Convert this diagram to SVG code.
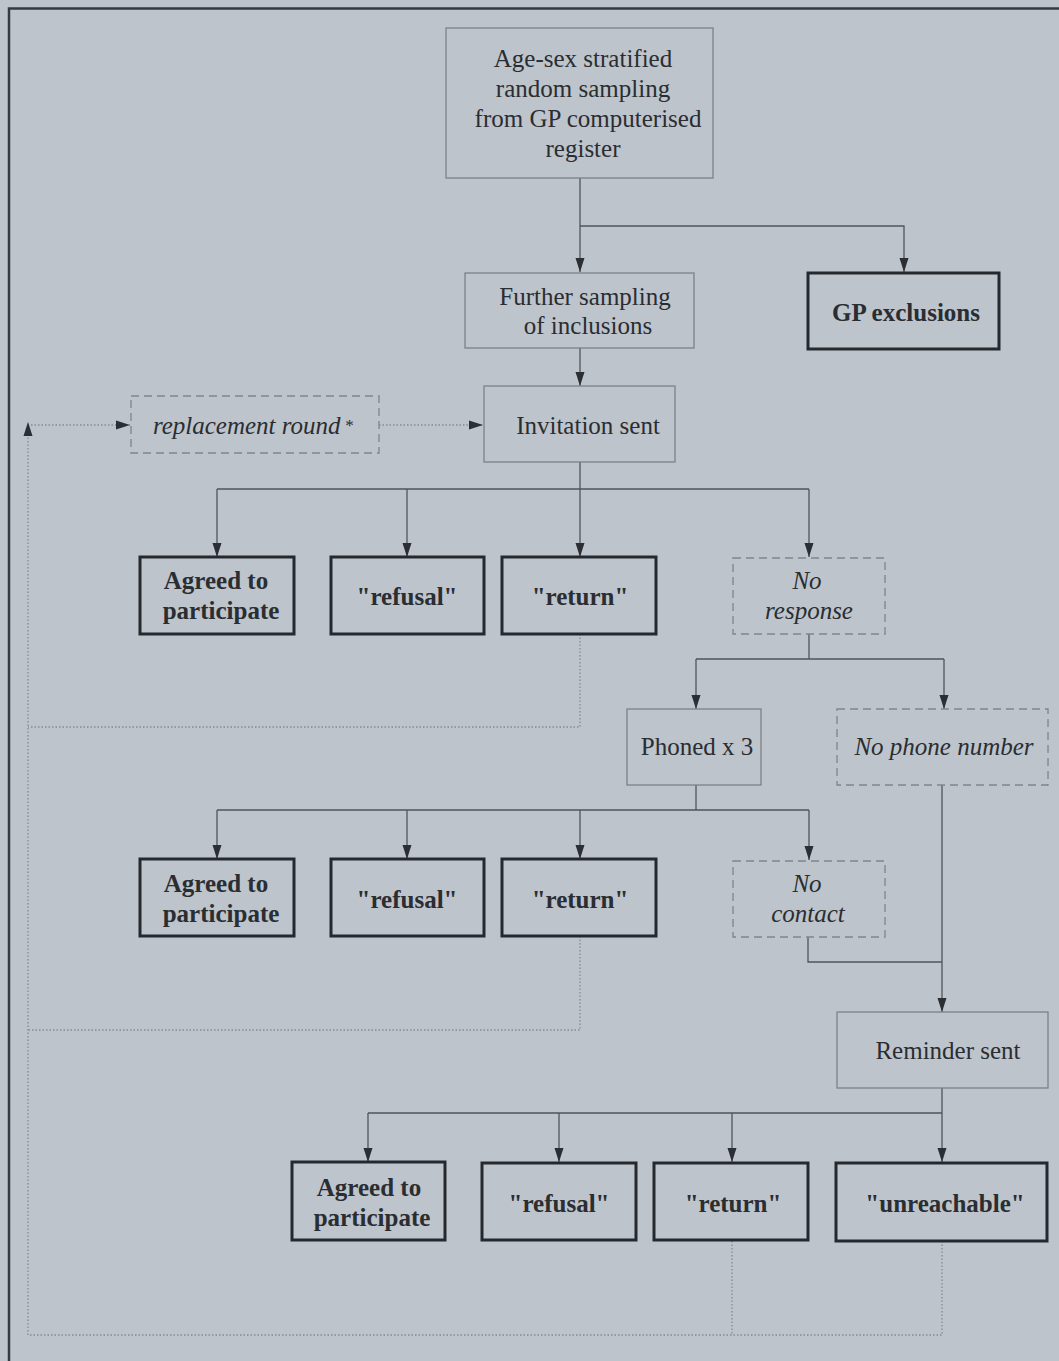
<svg xmlns="http://www.w3.org/2000/svg" width="1059" height="1361" viewBox="0 0 1059 1361">
<defs>
<marker id="ah" markerWidth="10" markerHeight="14" refX="10" refY="5" orient="auto" markerUnits="userSpaceOnUse" viewBox="0 0 10 14">
<path d="M0,0 L10,5 L0,10 Z" fill="#2b2f34"/>
</marker>
<marker id="arr" viewBox="0 0 14 10" refX="14" refY="5" markerWidth="14" markerHeight="10" orient="auto" markerUnits="userSpaceOnUse">
<path d="M0,0.5 L14,5 L0,9.5 Z" fill="#2b2f34"/>
</marker>
</defs>
<style>
text{font-family:"Liberation Serif","Times New Roman",serif;font-size:25px;fill:#2a2d31;text-anchor:middle}
.b{font-weight:bold}
.i{font-style:italic}
.thin{fill:none;stroke:#7d8288;stroke-width:1.3}
.thick{fill:none;stroke:#25292e;stroke-width:3}
.dash{fill:none;stroke:#80858b;stroke-width:1.3;stroke-dasharray:8,5}
.ln{fill:none;stroke:#50555b;stroke-width:1.3}
.dot{fill:none;stroke:#858a90;stroke-width:1.3;stroke-dasharray:1.5,2}
</style>
<rect x="0" y="0" width="1059" height="1361" fill="#bdc4cb"/>
<path d="M9,1361 V8.5 H1059" fill="none" stroke="#353a40" stroke-width="2.5"/>

<g id="connectors">
<path class="ln" d="M580,178 V272" marker-end="url(#arr)"/>
<path class="ln" d="M580,226 H904 V272" marker-end="url(#arr)"/>
<path class="ln" d="M580,348 V386" marker-end="url(#arr)"/>
<path class="ln" d="M580,462 V489"/>
<path class="ln" d="M217,489 H809"/>
<path class="ln" d="M217,489 V557" marker-end="url(#arr)"/>
<path class="ln" d="M407,489 V557" marker-end="url(#arr)"/>
<path class="ln" d="M580,489 V557" marker-end="url(#arr)"/>
<path class="ln" d="M809,489 V557" marker-end="url(#arr)"/>
<path class="ln" d="M809,634 V659"/>
<path class="ln" d="M696,659 H944"/>
<path class="ln" d="M696,659 V709" marker-end="url(#arr)"/>
<path class="ln" d="M944,659 V709" marker-end="url(#arr)"/>
<path class="ln" d="M696,785 V810"/>
<path class="ln" d="M217,810 H809"/>
<path class="ln" d="M217,810 V859" marker-end="url(#arr)"/>
<path class="ln" d="M407,810 V859" marker-end="url(#arr)"/>
<path class="ln" d="M580,810 V859" marker-end="url(#arr)"/>
<path class="ln" d="M809,810 V860" marker-end="url(#arr)"/>
<path class="ln" d="M808,937 V962 H942"/>
<path class="ln" d="M942,785 V1012" marker-end="url(#arr)"/>
<path class="ln" d="M942,1088 V1113"/>
<path class="ln" d="M368,1113 H942"/>
<path class="ln" d="M368,1113 V1162" marker-end="url(#arr)"/>
<path class="ln" d="M559,1113 V1162" marker-end="url(#arr)"/>
<path class="ln" d="M732,1113 V1162" marker-end="url(#arr)"/>
<path class="ln" d="M942,1113 V1162" marker-end="url(#arr)"/>
<path class="dot" d="M580,634 V727 H28"/>
<path class="dot" d="M580,936 V1030 H28"/>
<path class="dot" d="M732,1241 V1335"/>
<path class="dot" d="M942,1241 V1335 H28 V422" marker-end="url(#arr)"/>
<path class="dot" d="M31,425 H130" marker-end="url(#arr)"/>
<path class="dot" d="M379,425 H483" marker-end="url(#arr)"/>
</g>

<g id="n-sampling">
<rect class="thin" x="446" y="28" width="267" height="150"/>
<text x="583" y="67">Age-sex stratified</text>
<text x="583" y="97">random sampling</text>
<text x="588" y="127">from GP computerised</text>
<text x="583" y="157">register</text>
</g>
<g id="n-further">
<rect class="thin" x="465" y="273" width="229" height="75"/>
<text x="585" y="305">Further sampling</text>
<text x="588" y="334">of inclusions</text>
</g>
<g id="n-gpexcl">
<rect class="thick" x="808" y="273" width="191" height="76"/>
<text class="b" x="906" y="321">GP exclusions</text>
</g>
<g id="n-replacement">
<rect class="dash" x="131" y="396" width="248" height="57"/>
<text class="i" x="253" y="434">replacement round<tspan font-size="17" dx="4" dy="-3">*</tspan></text>
</g>
<g id="n-invitation">
<rect class="thin" x="484" y="386" width="191" height="76"/>
<text x="588" y="434">Invitation sent</text>
</g>

<g id="n-agreed1">
<rect class="thick" x="140" y="557" width="154" height="77"/>
<text class="b" x="216" y="589">Agreed to</text>
<text class="b" x="221" y="619">participate</text>
</g>
<g id="n-refusal1">
<rect class="thick" x="331" y="557" width="153" height="77"/>
<text class="b" x="407" y="605">"refusal"</text>
</g>
<g id="n-return1">
<rect class="thick" x="502" y="557" width="154" height="77"/>
<text class="b" x="580" y="605">"return"</text>
</g>
<g id="n-noresponse">
<rect class="dash" x="733" y="558" width="152" height="76"/>
<text class="i" x="807" y="589">No</text>
<text class="i" x="809" y="619">response</text>
</g>

<g id="n-phoned">
<rect class="thin" x="627" y="709" width="134" height="76"/>
<text x="697" y="755">Phoned x 3</text>
</g>
<g id="n-nophone">
<rect class="dash" x="837" y="709" width="211" height="76"/>
<text class="i" x="944" y="755">No phone number</text>
</g>

<g id="n-agreed2">
<rect class="thick" x="140" y="859" width="154" height="77"/>
<text class="b" x="216" y="892">Agreed to</text>
<text class="b" x="221" y="922">participate</text>
</g>
<g id="n-refusal2">
<rect class="thick" x="331" y="859" width="153" height="77"/>
<text class="b" x="407" y="908">"refusal"</text>
</g>
<g id="n-return2">
<rect class="thick" x="502" y="859" width="154" height="77"/>
<text class="b" x="580" y="908">"return"</text>
</g>
<g id="n-nocontact">
<rect class="dash" x="733" y="861" width="152" height="76"/>
<text class="i" x="807" y="892">No</text>
<text class="i" x="808" y="922">contact</text>
</g>

<g id="n-reminder">
<rect class="thin" x="837" y="1012" width="211" height="76"/>
<text x="948" y="1059">Reminder sent</text>
</g>

<g id="n-agreed3">
<rect class="thick" x="292" y="1162" width="153" height="78"/>
<text class="b" x="369" y="1196">Agreed to</text>
<text class="b" x="372" y="1226">participate</text>
</g>
<g id="n-refusal3">
<rect class="thick" x="482" y="1163" width="154" height="77"/>
<text class="b" x="559" y="1212">"refusal"</text>
</g>
<g id="n-return3">
<rect class="thick" x="654" y="1163" width="154" height="77"/>
<text class="b" x="733" y="1212">"return"</text>
</g>
<g id="n-unreachable">
<rect class="thick" x="836" y="1163" width="211" height="78"/>
<text class="b" x="945" y="1212">"unreachable"</text>
</g>
</svg>
